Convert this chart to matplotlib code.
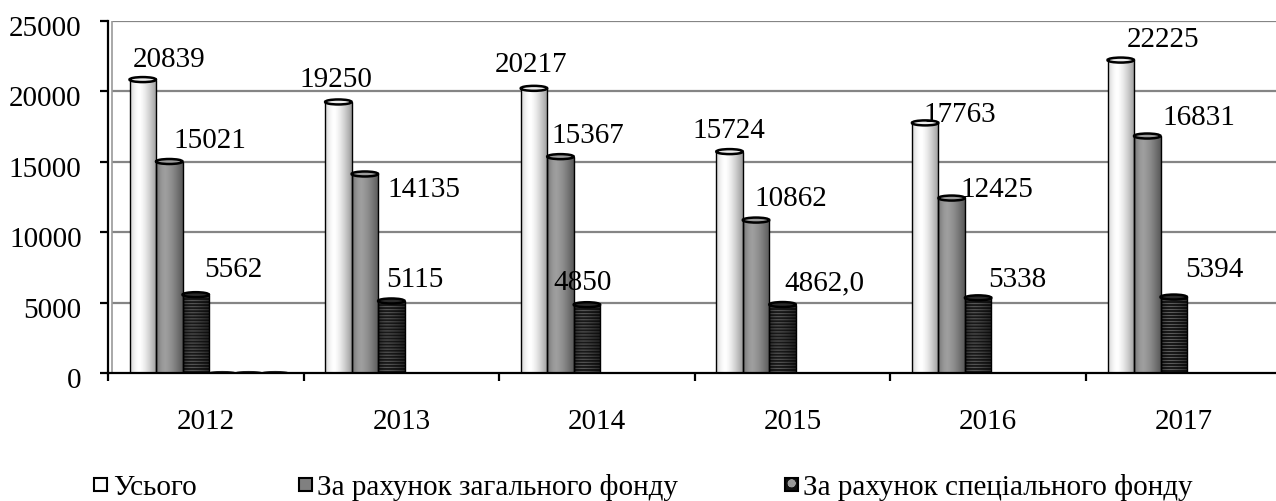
import numpy as np
import matplotlib
matplotlib.use("Agg")
import matplotlib.pyplot as plt
from matplotlib.patches import Ellipse, Rectangle
from matplotlib.transforms import ScaledTranslation

# ---- data -------------------------------------------------------------
years = ["2012", "2013", "2014", "2015", "2016", "2017"]
total = [20839, 19250, 20217, 15724, 17763, 22225]
general_fund = [15021, 14135, 15367, 10862, 12425, 16831]
special_fund = [5562, 5115, 4850, 4862.0, 5338, 5394]
special_decimals = [0, 0, 0, 1, 0, 0]
# unnamed series that only carry zeros in the first year
blank_series = [[0, None, None, None, None, None]] * 3

series_names = ["Усього", "За рахунок загального фонду", "За рахунок спеціального фонду"]
y_ticks = [0, 5000, 10000, 15000, 20000, 25000]

# label offsets in pixels (dx, dy) from the top of each column
total_off = [(26, 24), (-2, 26), (-3, 27), (-1, 25), (35, 12), (42, 24)]
general_off = [(41, 25), (59, -12), (27, 25), (35, 25), (45, 12), (52, 22)]
special_off = [(38, 29), (24, 25), (-4, 26), (42, 25), (39, 22), (41, 31)]

# ---- figure -----------------------------------------------------------
W, H, DPI = 1276, 502, 100
FS = 21
plt.rcParams["font.family"] = ["Liberation Serif", "DejaVu Serif"]
plt.rcParams["font.size"] = FS
fig = plt.figure(figsize=(W / DPI, H / DPI), dpi=DPI)

ax_l, ax_r, ax_t, ax_b = 108, 1281.6, 22, 374
ax = fig.add_axes([ax_l / W, 1 - ax_b / H, (ax_r - ax_l) / W, (ax_b - ax_t) / H])
ymax = 25000
ax.set_xlim(-0.5, 5.5)
ax.set_ylim(0, ymax)

px_x = 1.0 / ((ax_r - ax_l) / 6)      # data x per pixel
px_y = ymax / (ax_b - ax_t)           # data y per pixel

bar_w = 26.5 * px_x
first_left = -0.5 + 21.5 * px_x
cap_h = 5 * px_y

# back wall and gridlines
wall_x = -0.5 + 4 * px_x
for v in y_ticks[1:]:
    ax.plot([wall_x, 5.5], [v, v], color="#858585", lw=1.6, zorder=1, solid_capstyle="butt")
ax.plot([wall_x, wall_x], [0, ymax], color="#9a9a9a", lw=1.2, zorder=1)
ax.plot([wall_x, 5.5], [0, 0], color="#858585", lw=1.2, zorder=1)


def profile(n, lo_left, hi, lo_right, peak=0.35):
    t = (np.arange(n) + 0.5) / n
    left = lo_left + (hi - lo_left) * np.sin(np.pi / 2 * np.clip(t / peak, 0, 1))
    right = hi - (hi - lo_right) * np.clip((t - peak) / (1 - peak), 0, 1) ** 1.4
    return np.where(t < peak, left, right)


def cylinder(x0, value, kind):
    if value is None:
        return
    rows = max(int(round(value / px_y)), 1)
    cols = 27
    if kind == "white":
        shade = profile(cols, 0.82, 1.0, 0.6)
        img = np.tile(shade, (rows, 1))
        cap_face = "#ececec"
    elif kind == "gray":
        shade = profile(cols, 0.45, 0.62, 0.34)
        img = np.tile(shade, (rows, 1))
        cap_face = "#9c9c9c"
    else:
        shade = profile(cols, 0.55, 1.0, 0.45)
        stripe = np.where(np.arange(rows) % 3 == 0, 0.36, 0.10)
        img = np.outer(stripe, shade)
        cap_face = "#2a2a2a"
    rgb = np.dstack([img, img, img])
    ax.imshow(rgb, extent=(x0, x0 + bar_w, 0, value), aspect="auto",
              interpolation="bilinear", origin="upper", zorder=3)
    ax.add_patch(Rectangle((x0, 0), bar_w, value, fill=False, ec="black", lw=1.0, zorder=4))
    ax.add_patch(Ellipse((x0 + bar_w / 2, value), bar_w, cap_h, fc=cap_face,
                         ec="black", lw=1.8, zorder=5))


def label_text(v, d):
    return f"{v:.{d}f}".replace(".", ",")


def put_label(x_center, value, text, off):
    ax.annotate(text, xy=(x_center, value), xytext=(off[0], off[1] - 10),
                textcoords="offset pixels", ha="center", va="baseline",
                fontsize=FS, zorder=6, annotation_clip=False)


for i in range(len(years)):
    x_white = i + first_left
    x_gray = x_white + bar_w
    x_dark = x_gray + bar_w
    cylinder(x_white, total[i], "white")
    cylinder(x_gray, general_fund[i], "gray")
    cylinder(x_dark, special_fund[i], "dark")
    for k, s in enumerate(blank_series):
        if s[i] is not None:
            xc = x_dark + bar_w * (k + 1) + bar_w / 2
            ax.add_patch(Ellipse((xc, s[i]), bar_w, 3 * px_y, fc="#7a7a7a",
                                 ec="#222222", lw=0.8, zorder=5))
    put_label(x_white + bar_w / 2, total[i], label_text(total[i], 0), total_off[i])
    put_label(x_gray + bar_w / 2, general_fund[i], label_text(general_fund[i], 0), general_off[i])
    put_label(x_dark + bar_w / 2, special_fund[i],
              label_text(special_fund[i], special_decimals[i]), special_off[i])

# ---- axes -------------------------------------------------------------
for side in ("top", "right"):
    ax.spines[side].set_visible(False)
ax.spines["left"].set_linewidth(1.6)
ax.spines["bottom"].set_linewidth(1.6)
ax.spines["left"].set_zorder(7)
ax.spines["bottom"].set_zorder(7)

ax.set_yticks(y_ticks)
ax.set_yticklabels([str(v) for v in y_ticks])
ax.tick_params(axis="y", length=6, width=1.6, pad=13, labelsize=FS, direction="out")
shift = ScaledTranslation(0, -14 / DPI, fig.dpi_scale_trans)
for t in ax.yaxis.get_major_ticks():
    t.label1.set_va("baseline")
    t.label1.set_transform(t.label1.get_transform() + shift)

ax.set_xticks(np.arange(-0.5, 6.0, 1.0))
ax.set_xticklabels([])
ax.set_xticks(np.arange(6), minor=True)
ax.set_xticklabels(years, minor=True)
ax.tick_params(axis="x", which="major", length=6, width=1.6, direction="out")
ax.tick_params(axis="x", which="minor", length=0, pad=39.5, labelsize=FS)
for lab in ax.get_xticklabels(minor=True):
    lab.set_va("baseline")

# ---- legend -----------------------------------------------------------
def fx(px):
    return px / W


def fy(py):
    return 1 - py / H


box = 13
legend_y = 485
items = [(94, 113, "white"), (299, 317, "gray"), (785, 803, "dark")]
for (bx, tx, kind), name in zip(items, series_names):
    rect_xy = (fx(bx), fy(legend_y + box / 2))
    rw, rh = box / W, box / H
    if kind == "white":
        fig.patches.append(Rectangle(rect_xy, rw, rh, transform=fig.transFigure,
                                     fc="white", ec="black", lw=1.5))
    elif kind == "gray":
        fig.patches.append(Rectangle(rect_xy, rw, rh, transform=fig.transFigure,
                                     fc="#808080", ec="black", lw=1.5))
    else:
        fig.patches.append(Rectangle(rect_xy, rw, rh, transform=fig.transFigure,
                                     fc="#111111", ec="#9a9a9a", lw=0, hatch="o."))
        fig.patches.append(Rectangle(rect_xy, rw, rh, transform=fig.transFigure,
                                     fill=False, ec="black", lw=1.5))
    fig.text(fx(tx), fy(legend_y + 10), name, ha="left", va="baseline", fontsize=FS)

fig.savefig("out.png", dpi=DPI)
